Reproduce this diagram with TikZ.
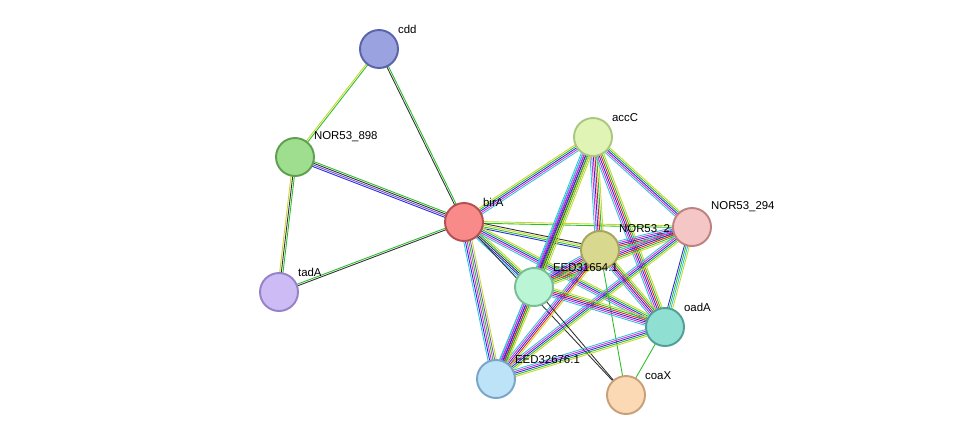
\documentclass[tikz,border=0pt]{standalone}
\usepackage{fontspec}
\setmainfont{Liberation Sans}
\usetikzlibrary{calc, backgrounds}

% STRING evidence colours
\definecolor{tm}{RGB}{200,215,40}
\definecolor{nb}{RGB}{40,190,40}
\definecolor{co}{RGB}{40,40,230}
\definecolor{ex}{RGB}{220,40,210}
\definecolor{db}{RGB}{40,200,220}
\definecolor{cx}{RGB}{50,50,50}
\definecolor{fu}{RGB}{230,30,30}
\definecolor{ho}{RGB}{120,80,200}

\newcommand\strline[4]{%
  \foreach \c [count=\i] in {#4}{
    \pgfmathsetmacro\off{(\i-(#3+1)/2)*0.95}
    \draw[\c, line width=0.5pt] ($(#1)!\off pt!90:(#2)$) -- ($(#2)!\off pt!-90:(#1)$);
  }}

\begin{document}
\begin{tikzpicture}[x=0.02cm, y=-0.02cm,
    prot/.style={circle, minimum size=0.76cm, inner sep=0pt, line width=1.1pt},
    lbl/.style={font=\fontsize{6.5}{7}\selectfont, inner sep=1pt, anchor=south west}]

  \useasboundingbox (0,0) rectangle (976,441);

  % proteins
  \node[prot, fill={rgb,255:red,154;green,163;blue,224}, draw={rgb,255:red,90;green,100;blue,170}] (cdd) at (379,49) {};
  \node[prot, fill={rgb,255:red,158;green,222;blue,142}, draw={rgb,255:red,95;green,160;blue,80}] (n898) at (295,157) {};
  \node[prot, fill={rgb,255:red,204;green,187;blue,245}, draw={rgb,255:red,150;green,130;blue,200}] (tadA) at (279,292) {};
  \node[prot, fill={rgb,255:red,248;green,138;blue,138}, draw={rgb,255:red,180;green,80;blue,80}] (birA) at (464,222) {};
  \node[prot, fill={rgb,255:red,224;green,245;blue,181}, draw={rgb,255:red,170;green,200;blue,130}] (accC) at (593,137) {};
  \node[prot, fill={rgb,255:red,245;green,198;blue,198}, draw={rgb,255:red,190;green,130;blue,130}] (n294) at (692,227) {};
  \node[prot, fill={rgb,255:red,217;green,216;blue,143}, draw={rgb,255:red,165;green,165;blue,95}] (n2) at (600,250) {};
  \node[prot, fill={rgb,255:red,186;green,245;blue,213}, draw={rgb,255:red,120;green,190;blue,150}] (e31) at (534,287) {};
  \node[prot, fill={rgb,255:red,143;green,223;blue,211}, draw={rgb,255:red,80;green,160;blue,150}] (oadA) at (665,327) {};
  \node[prot, fill={rgb,255:red,189;green,227;blue,248}, draw={rgb,255:red,120;green,165;blue,200}] (e32) at (496,379) {};
  \node[prot, fill={rgb,255:red,252;green,217;blue,181}, draw={rgb,255:red,200;green,160;blue,120}] (coaX) at (626,395) {};

  % interactions
  \begin{scope}[on background layer]
    \strline{cdd}{n898}{2}{tm,nb}
    \strline{cdd}{birA}{2}{cx,nb}
    \strline{n898}{birA}{4}{co,ho,cx,nb}
    \strline{n898}{tadA}{3}{tm,cx,nb}
    \strline{tadA}{birA}{2}{cx,nb}
    \strline{birA}{accC}{5}{db,ex,co,nb,tm}
    \strline{birA}{n294}{2}{nb,tm}
    \strline{birA}{n2}{4}{co,nb,tm,cx}
    \strline{birA}{e31}{5}{db,co,cx,nb,tm}
    \strline{birA}{oadA}{5}{db,ex,co,nb,tm}
    \strline{birA}{e32}{6}{db,co,ex,nb,ho,tm}
    \strline{birA}{coaX}{1}{cx}
    \strline{accC}{n294}{5}{db,ex,co,nb,tm}
    \strline{accC}{n2}{6}{db,ex,co,fu,nb,tm}
    \strline{accC}{e31}{7}{db,ex,co,fu,cx,nb,tm}
    \strline{accC}{oadA}{6}{db,ex,co,fu,nb,tm}
    \strline{accC}{e32}{5}{db,ex,co,nb,tm}
    \strline{n294}{n2}{6}{db,ex,co,fu,nb,tm}
    \strline{n294}{e31}{6}{db,ex,co,fu,nb,tm}
    \strline{n294}{oadA}{4}{co,nb,db,tm}
    \strline{n294}{e32}{5}{db,ex,co,nb,tm}
    \strline{n2}{e31}{6}{db,ex,co,fu,nb,tm}
    \strline{n2}{oadA}{6}{db,ex,co,fu,nb,tm}
    \strline{n2}{e32}{5}{db,ex,co,fu,tm}
    \strline{n2}{coaX}{1}{nb}
    \strline{e31}{oadA}{6}{db,ex,co,fu,nb,tm}
    \strline{e31}{e32}{6}{db,ex,co,fu,nb,tm}
    \strline{e31}{coaX}{1}{cx}
    \strline{oadA}{e32}{5}{db,ex,co,nb,tm}
    \strline{oadA}{coaX}{1}{nb}
  \end{scope}

  % labels
  \node[lbl] (Lcdd) at ($(cdd)+(17,-13)$) {cdd};
  \node[lbl] (Ln898) at ($(n898)+(17,-13)$) {NOR53\_898};
  \node[lbl] (LtadA) at ($(tadA)+(17,-13)$) {tadA};
  \node[lbl] (LbirA) at ($(birA)+(17,-13)$) {birA};
  \node[lbl] (LaccC) at ($(accC)+(17,-13)$) {accC};
  \node[lbl] (Ln294) at ($(n294)+(17,-13)$) {NOR53\_294};
  \node[lbl] (Ln2) at ($(n2)+(17,-13)$) {NOR53\_2};
  \node[lbl] (Le31) at ($(e31)+(17,-13)$) {EED31654.1};
  \node[lbl] (LoadA) at ($(oadA)+(17,-13)$) {oadA};
  \node[lbl] (Le32) at ($(e32)+(17,-13)$) {EED32676.1};
  \node[lbl] (LcoaX) at ($(coaX)+(17,-13)$) {coaX};
\end{tikzpicture}
\end{document}
